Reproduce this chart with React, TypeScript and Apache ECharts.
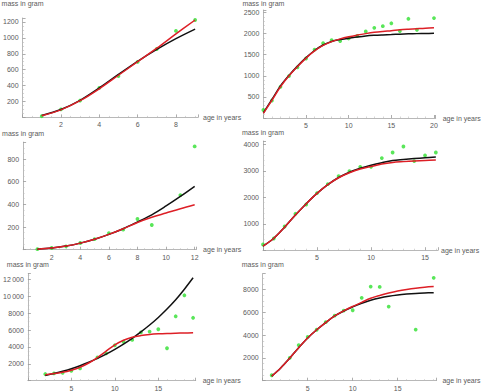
import React, { useEffect, useRef } from 'react';
import * as echarts from 'echarts';

// ---- Observed masses (green points) and two fitted growth curves per panel ----

// Panel 1
const ages1 = [1, 2, 3, 4, 5, 6, 7, 8, 9];
const mass1 = [15, 100, 212, 370, 520, 697, 860, 1088, 1225];
const fitAges1 = [1, 2, 3, 4, 5, 6, 7, 8, 9];
const fitBlack1 = [25, 100, 215, 370, 540, 705, 855, 990, 1110];
const fitRed1 = [20, 95, 210, 360, 530, 700, 870, 1050, 1225];

// Panel 2
const ages2 = [0, 1, 2, 3, 4, 5, 6, 7, 8, 9, 10, 11, 12, 13, 14, 15, 16, 17, 18, 20];
const mass2 = [190, 414, 740, 995, 1202, 1410, 1620, 1772, 1846, 1823, 1885, 1946, 2053, 2138, 2176, 2245, 2060, 2352, 2092, 2368];
const fitAges2 = [0, 1, 2, 3, 4, 5, 6, 7, 8, 9, 10, 11, 12, 13, 14, 15, 16, 17, 18, 19, 20];
const fitBlack2 = [120, 440, 760, 1010, 1230, 1430, 1600, 1730, 1815, 1860, 1890, 1920, 1945, 1960, 1970, 1978, 1988, 1995, 2000, 2004, 2007];
const fitRed2 = [110, 420, 740, 1000, 1220, 1420, 1590, 1720, 1810, 1875, 1925, 1965, 2000, 2030, 2052, 2070, 2090, 2105, 2118, 2130, 2138];

// Panel 3
const ages3 = [1, 2, 3, 4, 5, 6, 7, 8, 9, 11, 12];
const mass3 = [5, 15, 30, 59, 94, 147, 177, 271, 218, 482, 912];
const fitAges3 = [1, 2, 3, 4, 5, 6, 7, 8, 9, 10, 11, 12];
const fitBlack3 = [5, 15, 32, 58, 92, 135, 185, 245, 308, 386, 470, 559];
const fitRed3 = [5, 15, 32, 58, 92, 135, 185, 240, 286, 324, 362, 397];

// Panel 4
const ages4 = [0, 1, 2, 3, 4, 5, 6, 7, 8, 9, 10, 11, 12, 13, 14, 15, 16];
const mass4 = [216, 442, 896, 1377, 1728, 2160, 2500, 2803, 2992, 3154, 3154, 3483, 3695, 3922, 3370, 3585, 3695];
const fitAges4 = [0, 1, 2, 3, 4, 5, 6, 7, 8, 9, 10, 11, 12, 13, 14, 15, 16];
const fitBlack4 = [150, 450, 870, 1330, 1760, 2150, 2480, 2750, 2950, 3100, 3215, 3310, 3390, 3430, 3465, 3495, 3521];
const fitRed4 = [150, 450, 870, 1330, 1760, 2150, 2480, 2740, 2930, 3070, 3166, 3260, 3320, 3350, 3375, 3393, 3408];

// Panel 5
const ages5 = [2, 3, 4, 5, 6, 8, 9, 10, 11, 12, 13, 14, 15, 16, 17, 18, 19];
const mass5 = [790, 866, 937, 1175, 1459, 2764, 3250, 4200, 4620, 4840, 5730, 5820, 6100, 3850, 7640, 10130, 7460];
const fitAges5 = [2, 3, 4, 5, 6, 7, 8, 9, 10, 11, 12, 13, 14, 15, 16, 17, 18, 19];
const fitBlack5 = [620, 850, 1120, 1420, 1770, 2180, 2640, 3150, 3720, 4340, 5020, 5780, 6600, 7500, 8500, 9600, 10850, 12200];
const fitRed5 = [700, 850, 1000, 1250, 1600, 2100, 2750, 3500, 4250, 4800, 5150, 5350, 5480, 5560, 5610, 5640, 5660, 5680];

// Panel 6
const ages6 = [1, 3, 4, 5, 6, 7, 8, 9, 10, 11, 12, 13, 14, 17, 19];
const mass6 = [480, 2000, 3117, 3846, 4470, 5136, 5716, 6155, 6184, 7270, 8262, 8233, 6506, 4487, 9030];
const fitAges6 = [1, 2, 3, 4, 5, 6, 7, 8, 9, 10, 11, 12, 13, 14, 15, 16, 17, 18, 19];
const fitBlack6 = [400, 1120, 1980, 2900, 3750, 4470, 5100, 5680, 6120, 6480, 6800, 7060, 7260, 7410, 7520, 7600, 7660, 7700, 7730];
const fitRed6 = [400, 1120, 1980, 2900, 3750, 4470, 5100, 5680, 6130, 6520, 6880, 7230, 7480, 7690, 7870, 8010, 8120, 8200, 8260];

const Y_NAME = 'mass in gram';
const X_NAME = 'age in years';

const panelData = [
  { ages: ages1, mass: mass1, fitAges: fitAges1, black: fitBlack1, red: fitRed1 },
  { ages: ages2, mass: mass2, fitAges: fitAges2, black: fitBlack2, red: fitRed2 },
  { ages: ages3, mass: mass3, fitAges: fitAges3, black: fitBlack3, red: fitRed3 },
  { ages: ages4, mass: mass4, fitAges: fitAges4, black: fitBlack4, red: fitRed4 },
  { ages: ages5, mass: mass5, fitAges: fitAges5, black: fitBlack5, red: fitRed5 },
  { ages: ages6, mass: mass6, fitAges: fitAges6, black: fitBlack6, red: fitRed6 },
];

// Layout of the 3x2 grid of plots (pixels) and axis settings.
const layout = [
  { left: 22.3, top: 13.1, width: 175.7, height: 104.3, xMax: 9.15, yMax: 1250, xStep: 2, yStep: 200, xMinor: 4, yMinor: 4, yNameGap: 11, xNameGap: 5 },
  { left: 263.4, top: 6.6, width: 172.3, height: 111.4, xMax: 20.2, yMax: 2560, xStep: 5, yStep: 500, xMinor: 5, yMinor: 5, yNameGap: 3, xNameGap: 7 },
  { left: 23.1, top: 142.1, width: 173, height: 107.6, xMax: 12.1, yMax: 950, xStep: 2, yStep: 200, xMinor: 4, yMinor: 4, yNameGap: 5, xNameGap: 7 },
  { left: 263, top: 141, width: 175, height: 109.2, xMax: 16.2, yMax: 4130, xStep: 5, yStep: 1000, xMinor: 5, yMinor: 5, yNameGap: 5, xNameGap: 3 },
  { left: 23.4, top: 273.6, width: 172.3, height: 107.1, xMax: 19.3, yMax: 12700, xStep: 5, yStep: 2000, xMinor: 5, yMinor: 4, yNameGap: 6, xNameGap: 7 },
  { left: 262.7, top: 273.6, width: 173.7, height: 107.1, xMax: 19.3, yMax: 9400, xStep: 5, yStep: 2000, xMinor: 5, yMinor: 4, yNameGap: 6, xNameGap: 6 },
];

const FONT = 'Liberation Sans, Arial, sans-serif';
const FONT_SIZE = 7;
const LABEL_COLOR = '#5a5a5a';
const AXIS_COLOR = '#b8b8b8';
const POINT_COLOR = '#2fe02f';
const RED = '#dd1f26';
const BLACK = '#111';

function tickText(v: number, step: number): string {
  if (v === 0 || Math.abs(v % step) > 1e-9) return '';
  const s = String(v);
  if (v >= 10000) return s.slice(0, s.length - 3) + '\u2009' + s.slice(-3);
  return s;
}

function buildOption() {
  const grid: any[] = [];
  const xAxis: any[] = [];
  const yAxis: any[] = [];
  const series: any[] = [];

  layout.forEach((L, i) => {
    grid.push({ left: L.left, top: L.top, width: L.width, height: L.height, containLabel: false });
    const common = {
      gridIndex: i,
      type: 'value',
      min: 0,
      splitLine: { show: false },
      axisLine: { show: true, onZero: false, lineStyle: { color: AXIS_COLOR, width: 1 } },
      axisTick: { show: true, inside: true, length: 3, lineStyle: { color: '#999', width: 0.8 } },
      nameTextStyle: { fontFamily: FONT, fontSize: FONT_SIZE, color: LABEL_COLOR },
    };
    xAxis.push({
      ...common,
      max: L.xMax,
      interval: L.xStep,
      name: X_NAME,
      nameLocation: 'end',
      nameGap: L.xNameGap,
      minorTick: { show: true, splitNumber: L.xMinor, length: 1.5, lineStyle: { color: '#bbb', width: 0.6 } },
      axisLabel: {
        fontFamily: FONT,
        fontSize: FONT_SIZE,
        color: LABEL_COLOR,
        margin: 4,
        formatter: (v: number) => tickText(v, L.xStep),
      },
    });
    yAxis.push({
      ...common,
      max: L.yMax,
      interval: L.yStep,
      name: Y_NAME,
      nameLocation: 'end',
      nameGap: L.yNameGap,
      minorTick: { show: true, splitNumber: L.yMinor, length: 1.5, lineStyle: { color: '#bbb', width: 0.6 } },
      axisLabel: {
        fontFamily: FONT,
        fontSize: FONT_SIZE,
        color: LABEL_COLOR,
        margin: 4,
        formatter: (v: number) => tickText(v, L.yStep),
      },
    });

    const d = panelData[i];
    series.push({
      type: 'scatter',
      xAxisIndex: i,
      yAxisIndex: i,
      symbol: 'circle',
      symbolSize: 3.8,
      itemStyle: { color: POINT_COLOR },
      data: d.ages.map((a, j) => [a, d.mass[j]]),
      z: 1,
    });
    series.push({
      type: 'line',
      xAxisIndex: i,
      yAxisIndex: i,
      showSymbol: false,
      smooth: 0.35,
      lineStyle: { color: BLACK, width: 1.5 },
      data: d.fitAges.map((a, j) => [a, d.black[j]]),
      z: 2,
    });
    series.push({
      type: 'line',
      xAxisIndex: i,
      yAxisIndex: i,
      showSymbol: false,
      smooth: 0.35,
      lineStyle: { color: RED, width: 1.5 },
      data: d.fitAges.map((a, j) => [a, d.red[j]]),
      z: 3,
    });
  });

  return {
    animation: false,
    backgroundColor: '#fff',
    grid,
    xAxis,
    yAxis,
    series,
  };
}

export default function App() {
  const ref = useRef<HTMLDivElement>(null);

  useEffect(() => {
    if (!ref.current) return;
    const chart = echarts.init(ref.current, null, { renderer: 'svg' });
    chart.setOption(buildOption() as any);
    return () => chart.dispose();
  }, []);

  return (
    <div
      ref={ref}
      style={{ position: 'fixed', left: 0, top: 0, width: 482, height: 392, background: '#fff' }}
    />
  );
}
